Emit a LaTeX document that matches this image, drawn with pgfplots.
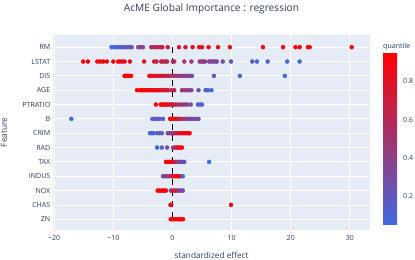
\documentclass[border=0pt]{standalone}
\usepackage{fontspec}
\setmainfont{Open Sans}
\usepackage{pgfplots}
\pgfplotsset{compat=1.18}
\definecolor{ptext}{HTML}{2A3F5F}
\definecolor{pbg}{HTML}{E5ECF6}
\pgfplotsset{every axis title shift=0pt}
\pgfplotsset{acmepts/.style={scatter, only marks, mark=*, mark size=2.0bp,
  scatter/use mapped color={draw=mapped color, fill=mapped color}, point meta=explicit}}
\begin{document}
\begin{tikzpicture}[x=1bp,y=1bp]
\useasboundingbox (0,0) rectangle (415,260);
\begin{axis}[
  at={(53bp,30bp)}, anchor=south west,
  width=317bp, height=195bp, scale only axis,
  xmin=-20.2, xmax=33.4, ymin=-0.75, ymax=12.85,
  axis background/.style={fill=pbg},
  axis line style={draw=none},
  major tick length=0pt,
  xtick={-20,-10,0,10,20,30},
  xticklabels={−20,−10,0,10,20,30},
  ytick={0,...,12},
  yticklabels={ZN,CHAS,NOX,INDUS,TAX,RAD,CRIM,B,PTRATIO,AGE,DIS,LSTAT,RM},
  grid=major,
  major grid style={white, line width=0.8bp},
  tick label style={font=\fontsize{7.1}{8}\selectfont, text=ptext},
  xticklabel style={inner sep=0pt, yshift=-5.5bp},
  yticklabel style={inner sep=0pt, xshift=-2.5bp},
  colormap={acme}{rgb255=(65,105,225) rgb255=(255,0,0)},
  point meta min=0.05, point meta max=0.95,
  colorbar,
  colorbar style={
    at={(parent axis.north east)}, anchor=north west,
    xshift=4.5bp, yshift=-17.7bp,
    width=18.3bp, height=172.3bp, scale only axis,
    axis line style={draw=none}, grid=none,
    major tick length=0pt,
    ytick={0.2,0.4,0.6,0.8},
    yticklabels={0.2,0.4,0.6,0.8},
    yticklabel style={inner sep=0pt, xshift=1.7bp, anchor=west, font=\fontsize{7.1}{8}\selectfont, text=ptext},
    title={quantile},
    title style={at={(0,1)}, anchor=base west, inner sep=0pt, yshift=3.7bp, font=\fontsize{7.1}{8}\selectfont, text=ptext},
  },
  xlabel={standardized effect},
  xlabel style={at={(axis description cs:0.5,-0.128)}, anchor=center, inner sep=0pt, font=\fontsize{8.3}{10}\selectfont, text=ptext},
  ylabel={Feature},
  ylabel style={at={(axis description cs:-0.1546,0.5)}, anchor=center, inner sep=0pt, font=\fontsize{8.3}{10}\selectfont, text=ptext},
]
% RM
\addplot[acmepts] coordinates {
(-10.3,12)[0.05] (-10.0,12)[0.06] (-9.6,12)[0.08] (-9.2,12)[0.10] (-8.8,12)[0.14] (-8.4,12)[0.16]
(-8.0,12)[0.18] (-7.6,12)[0.20] (-7.2,12)[0.22] (-6.9,12)[0.24] (-5.8,12)[0.34] (-5.4,12)[0.37]
(-5.0,12)[0.40] (-3.6,12)[0.53] (-3.2,12)[0.56] (-2.8,12)[0.59] (-2.4,12)[0.62] (-2.0,12)[0.64]
(-1.7,12)[0.66] (-0.8,12)[0.70] (1.1,12)[0.74] (2.2,12)[0.77] (3.4,12)[0.79] (4.5,12)[0.81]
(5.0,12)[0.83] (6.1,12)[0.85] (7.7,12)[0.87] (9.7,12)[0.88] (15.3,12)[0.89] (18.7,12)[0.90]
(20.8,12)[0.91] (21.5,12)[0.92] (22.9,12)[0.93] (23.2,12)[0.94] (30.3,12)[0.95]};
% LSTAT
\addplot[acmepts] coordinates {
(21.5,11)[0.05] (19.4,11)[0.07] (16.1,11)[0.10] (14.3,11)[0.12] (13.5,11)[0.14] (9.9,11)[0.18]
(8.5,11)[0.22] (7.5,11)[0.32] (7.2,11)[0.33] (6.9,11)[0.34] (6.5,11)[0.35] (6.2,11)[0.36]
(5.5,11)[0.39] (5.2,11)[0.40] (4.9,11)[0.41] (4.6,11)[0.42] (3.2,11)[0.46] (2.0,11)[0.49]
(0.3,11)[0.53] (0.07,11)[0.55] (-0.9,11)[0.59] (-1.2,11)[0.61] (-1.6,11)[0.63] (-1.9,11)[0.66]
(-2.7,11)[0.70] (-3.1,11)[0.72] (-4.8,11)[0.78] (-7.2,11)[0.84] (-8.1,11)[0.85] (-8.5,11)[0.86]
(-8.9,11)[0.87] (-9.2,11)[0.88] (-10.0,11)[0.89] (-11.1,11)[0.90] (-11.7,11)[0.91] (-12.2,11)[0.92]
(-12.7,11)[0.93] (-14.3,11)[0.94] (-15.1,11)[0.95]};
% DIS
\addplot[acmepts] coordinates {
(19.0,10)[0.05] (11.4,10)[0.12] (7.0,10)[0.20] (3.3,10)[0.31] (2.9,10)[0.33] (2.5,10)[0.35]
(2.1,10)[0.37] (1.7,10)[0.40] (1.3,10)[0.43] (0.9,10)[0.46] (0.5,10)[0.49] (0.1,10)[0.52]
(-0.4,10)[0.55] (-0.7,10)[0.58] (-1.1,10)[0.62] (-1.5,10)[0.72] (-1.9,10)[0.74] (-2.3,10)[0.76]
(-2.7,10)[0.78] (-3.1,10)[0.80] (-3.5,10)[0.82] (-3.9,10)[0.84] (-7.0,10)[0.90] (-7.3,10)[0.91]
(-7.5,10)[0.92] (-7.7,10)[0.93] (-7.9,10)[0.94] (-8.1,10)[0.95]};
% AGE
\addplot[acmepts] coordinates {
(6.6,9)[0.05] (6.0,9)[0.10] (5.6,9)[0.15] (4.4,9)[0.25] (3.2,9)[0.36] (2.8,9)[0.39] (2.4,9)[0.42]
(2.0,9)[0.45] (1.6,9)[0.48] (0.3,9)[0.59] (-0.1,9)[0.62] (-0.7,9)[0.69] (-1.0,9)[0.71] (-1.3,9)[0.73]
(-1.6,9)[0.75] (-1.9,9)[0.77] (-2.2,9)[0.79] (-2.5,9)[0.81] (-2.8,9)[0.83] (-3.1,9)[0.84]
(-3.4,9)[0.85] (-3.7,9)[0.86] (-4.0,9)[0.87] (-4.3,9)[0.88] (-4.6,9)[0.89] (-4.9,9)[0.90]
(-5.2,9)[0.91] (-5.5,9)[0.93] (-6.0,9)[0.95]};
% PTRATIO
\addplot[acmepts] coordinates {
(5.0,8)[0.05] (4.7,8)[0.10] (4.3,8)[0.15] (3.1,8)[0.30] (2.5,8)[0.36] (2.1,8)[0.40] (1.7,8)[0.45]
(1.3,8)[0.50] (0.9,8)[0.55] (0.5,8)[0.60] (0.1,8)[0.66] (-0.2,8)[0.72] (-0.5,8)[0.76] (-0.8,8)[0.80]
(-1.1,8)[0.83] (-1.4,8)[0.86] (-1.7,8)[0.89] (-2.0,8)[0.92] (-2.8,8)[0.95]};
% B
\addplot[acmepts] coordinates {
(-17.1,7)[0.05] (-3.4,7)[0.10] (-3.0,7)[0.12] (-2.6,7)[0.14] (-2.2,7)[0.16] (-1.6,7)[0.20]
(4.4,7)[0.25] (4.0,7)[0.28] (3.6,7)[0.31] (3.2,7)[0.34] (2.8,7)[0.37] (2.4,7)[0.40] (2.0,7)[0.44]
(1.6,7)[0.48] (1.3,7)[0.62] (1.0,7)[0.67] (0.7,7)[0.72] (0.4,7)[0.78] (0.1,7)[0.84] (-0.2,7)[0.90]
(-0.4,7)[0.95]};
% CRIM
\addplot[acmepts] coordinates {
(-3.8,6)[0.05] (-3.5,6)[0.07] (-3.2,6)[0.09] (-2.6,6)[0.12] (-2.2,6)[0.14] (-1.8,6)[0.16]
(-0.8,6)[0.30] (-0.5,6)[0.35] (-0.2,6)[0.40] (0.1,6)[0.45] (0.3,6)[0.55] (0.6,6)[0.65] (0.9,6)[0.72]
(1.2,6)[0.77] (1.5,6)[0.81] (1.8,6)[0.85] (2.1,6)[0.88] (2.4,6)[0.91] (2.7,6)[0.93] (2.9,6)[0.95]};
% RAD
\addplot[acmepts] coordinates {
(-2.6,5)[0.05] (-1.8,5)[0.15] (-0.9,5)[0.25] (0.1,5)[0.40] (0.4,5)[0.50] (0.7,5)[0.70]
(1.0,5)[0.80] (1.3,5)[0.90] (1.6,5)[0.95]};
% TAX
\addplot[acmepts] coordinates {
(6.2,4)[0.05] (2.0,4)[0.20] (1.7,4)[0.25] (1.4,4)[0.30] (1.1,4)[0.35] (0.8,4)[0.40] (0.5,4)[0.45]
(0.1,4)[0.78] (-0.2,4)[0.84] (-0.5,4)[0.88] (-0.8,4)[0.92] (-1.1,4)[0.95]};
% INDUS
\addplot[acmepts] coordinates {
(1.75,3)[0.05] (1.4,3)[0.10] (1.2,3)[0.15] (-1.6,3)[0.30] (-1.3,3)[0.35] (-1.0,3)[0.40]
(-0.7,3)[0.45] (-0.4,3)[0.50] (-0.1,3)[0.65] (0.2,3)[0.75] (0.5,3)[0.85] (0.8,3)[0.90] (1.0,3)[0.95]};
% NOX
\addplot[acmepts] coordinates {
(-0.3,2)[0.15] (1.75,2)[0.25] (1.5,2)[0.30] (1.2,2)[0.35] (0.9,2)[0.40] (0.6,2)[0.50] (0.3,2)[0.70]
(0.0,2)[0.75] (-1.1,2)[0.85] (-1.3,2)[0.87] (-1.6,2)[0.89] (-1.9,2)[0.91] (-2.2,2)[0.93] (-2.5,2)[0.95]};
% CHAS
\addplot[acmepts] coordinates {
(-0.35,1)[0.30] (-0.25,1)[0.60] (-0.2,1)[0.90] (9.9,1)[0.95]};
% ZN
\addplot[acmepts] coordinates {
(-0.3,0)[0.85] (0.0,0)[0.87] (0.2,0)[0.88] (0.5,0)[0.89] (0.8,0)[0.90] (1.1,0)[0.92] (1.4,0)[0.94] (1.8,0)[0.95]};
% zero line
\addplot[black, line width=1.6bp, dash pattern=on 6.3bp off 4.7bp, forget plot] coordinates {(0,12) (0,-0.17)};
\end{axis}
\node[anchor=base, inner sep=0pt, font=\fontsize{10.2}{12}\selectfont, text=ptext] at (211.5,248.3) {AcME Global Importance : regression};
\end{tikzpicture}
\end{document}
